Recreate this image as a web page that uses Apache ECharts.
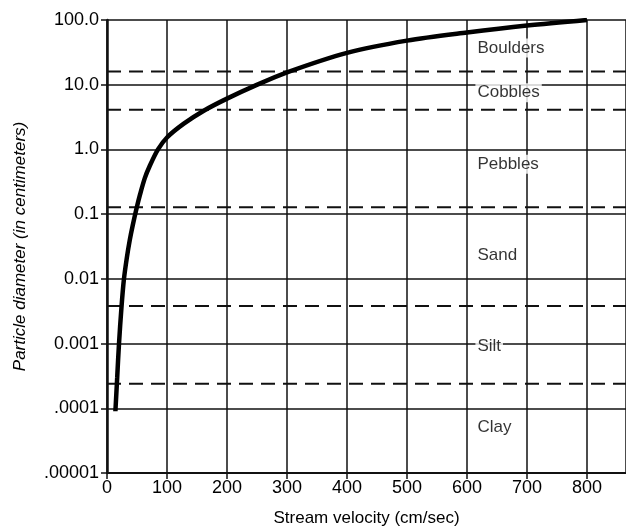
<!DOCTYPE html>
<html>
<head>
<meta charset="utf-8">
<script src="https://cdn.jsdelivr.net/npm/echarts@6/dist/echarts.min.js"></script>
<style>
	html, body { margin: 0; padding: 0; background: #fff; }
	#chart { width: 626px; height: 532px; }
</style>
</head>
<body>
<div id="chart"></div>
<script>
// velocity (cm/sec) vs particle diameter (cm)
var velocity = [14, 17, 20, 24, 28, 33, 38, 43, 49, 55, 63, 71, 85, 100, 128, 162, 200, 245, 300, 400, 500, 600, 700, 800];
var diameter = [0.00009, 0.0003, 0.001, 0.0035, 0.0095, 0.021, 0.04, 0.068, 0.12, 0.2, 0.36, 0.55, 1.0, 1.53, 2.5, 4.0, 6.1, 9.5, 15.5, 31, 48, 64, 82, 100];

// dashed class boundaries
var boundaries = [16, 4.1, 0.128, 0.0038, 0.00024];

// class names and where they sit
var classNames = ['Boulders', 'Cobbles', 'Pebbles', 'Sand', 'Silt', 'Clay'];
var classY = [37, 7.5, 0.59, 0.023, 0.0009, 0.000051];
var classX = 614;

var yTickText = {
	'100': '100.0', '10': '10.0', '1': '1.0', '0.1': '0.1',
	'0.01': '0.01', '0.001': '0.001', '0.0001': '.0001', '0.00001': '.00001'
};

var chart = echarts.init(document.getElementById('chart'));

var curve = [];
for (var i = 0; i < velocity.length; i++) {
	curve.push([velocity[i], diameter[i]]);
}

var dashSeries = boundaries.map(function(b) {
	return {
		type: 'line',
		data: [[0, b], [865, b]],
		symbol: 'none',
		silent: true,
		z: 3,
		lineStyle: { color: '#111', width: 2, type: [14, 8] }
	};
});

var labels = classNames.map(function(n, i) {
	return { name: n, value: [classX, classY[i]] };
});

var option = {
	animation: false,
	backgroundColor: '#fff',
	textStyle: { fontFamily: 'Liberation Sans, Arial, sans-serif', color: '#000' },
	grid: { left: 107, right: 0, top: 20, bottom: 57 },
	xAxis: {
		type: 'value',
		min: 0,
		max: 865,
		interval: 100,
		name: 'Stream velocity (cm/sec)',
		nameLocation: 'middle',
		nameGap: 37,
		nameTextStyle: { fontSize: 17, color: '#000' },
		axisLine: { show: true, onZero: false, lineStyle: { color: '#111', width: 2 } },
		axisTick: { show: true, length: 6, lineStyle: { color: '#111', width: 1.5 } },
		axisLabel: { fontSize: 18, color: '#000', margin: 6, showMaxLabel: false },
		splitLine: { show: true, lineStyle: { color: '#111', width: 1.5 } }
	},
	yAxis: {
		type: 'log',
		logBase: 10,
		min: 0.00001,
		max: 100,
		name: 'Particle diameter (in centimeters)',
		nameLocation: 'middle',
		nameGap: 78,
		nameTextStyle: { fontSize: 17, fontStyle: 'italic', color: '#000' },
		axisLine: { show: true, lineStyle: { color: '#111', width: 2.5 } },
		axisTick: { show: true, length: 6, lineStyle: { color: '#111', width: 1.5 } },
		axisLabel: {
			fontSize: 18,
			color: '#000',
			margin: 8,
			formatter: function(v) {
				var k = String(+v.toPrecision(3));
				if (k === '1e-5') k = '0.00001';
				return yTickText[k] || k;
			}
		},
		splitLine: { show: true, lineStyle: { color: '#111', width: 1.5 } }
	},
	series: dashSeries.concat([
		{
			type: 'line',
			data: curve,
			smooth: 0.3,
			symbol: 'none',
			z: 5,
			lineStyle: { color: '#000', width: 4.5 }
		},
		{
			type: 'scatter',
			data: labels,
			symbolSize: 0,
			z: 6,
			label: {
				show: true,
				position: 'right',
				distance: 0,
				formatter: '{b}',
				fontSize: 17,
				color: '#000',
				backgroundColor: '#fff',
				padding: [1, 2]
			}
		}
	])
};

chart.setOption(option);
</script>
</body>
</html>
